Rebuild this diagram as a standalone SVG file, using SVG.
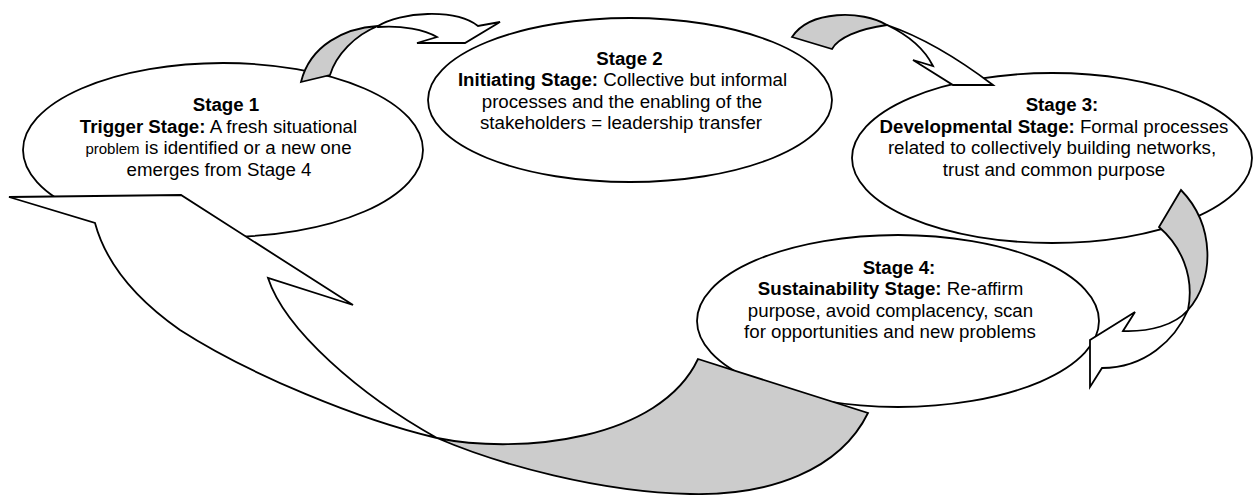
<svg xmlns="http://www.w3.org/2000/svg" width="1254" height="495" viewBox="0 0 1254 495">
<style>
.node{fill:#ffffff;stroke:#000000;stroke-width:1.8}
.aw{fill:#ffffff;stroke:#000000;stroke-width:1.8;stroke-linejoin:miter}
.ag{fill:#cccccc;stroke:#000000;stroke-width:1.8;stroke-linejoin:miter}
.t{font-family:"Liberation Sans",Arial,sans-serif;font-size:18.7px;fill:#000000;text-anchor:middle}
.b{font-weight:bold}
</style>
<rect x="0" y="0" width="1254" height="495" fill="#ffffff"/>
<g id="stage1">
<ellipse class="node" cx="223" cy="150" rx="200" ry="87"/>
<text class="t b" x="226" y="111">Stage 1</text>
<text class="t" x="218.5" y="133"><tspan class="b">Trigger Stage:</tspan> A fresh situational</text>
<text class="t" x="218.5" y="154"><tspan font-size="15px">problem</tspan> is identified or a new one</text>
<text class="t" x="219" y="176">emerges from Stage 4</text>
</g>
<g id="stage2">
<ellipse class="node" cx="630" cy="100" rx="202" ry="82"/>
<text class="t b" x="629.5" y="65">Stage 2</text>
<text class="t" x="622.5" y="86"><tspan class="b">Initiating Stage:</tspan> Collective but informal</text>
<text class="t" x="622" y="107.5">processes and the enabling of the</text>
<text class="t" x="621" y="129">stakeholders = leadership transfer</text>
</g>
<g id="stage3">
<ellipse class="node" cx="1052" cy="158" rx="200" ry="85"/>
<text class="t b" x="1062" y="110.5">Stage 3:</text>
<text class="t" x="1054" y="132.5"><tspan class="b">Developmental Stage:</tspan> Formal processes</text>
<text class="t" x="1052" y="154">related to collectively building networks,</text>
<text class="t" x="1054" y="175.5">trust and common purpose</text>
</g>
<g id="stage4">
<ellipse class="node" cx="898" cy="321" rx="201" ry="86"/>
<text class="t b" x="899" y="273.5">Stage 4:</text>
<text class="t" x="890.5" y="295"><tspan class="b">Sustainability Stage:</tspan> Re-affirm</text>
<text class="t" x="890.5" y="316.5">purpose, avoid complacency, scan</text>
<text class="t" x="890" y="338">for opportunities and new problems</text>
</g>
<g id="connectors">
<g id="arrow-1-2">
<path class="ag" d="M301,82 L330,75 C336,55 355,35 378,26 C345,28 310,45 301,82 Z"/>
<path class="aw" d="M378,26 C400,12 455,8 478,26 L500,22 L465,43 L417,43 L437,37 C425,30 402,25 378,27 Z"/>
</g>
<g id="arrow-2-3">
<path class="ag" d="M792,37 L832,49 C838,38 858,29 887,25 C862,10 810,10 792,37 Z"/>
<path class="aw" d="M887,25 C925,38 960,60 993,85 L953,85 L913,60 L933,66 C925,50 910,36 887,25 Z"/>
</g>
<g id="arrow-3-4">
<path class="ag" d="M1181,190 L1159,227 C1180,245 1195,275 1188,310 C1215,280 1215,225 1181,190 Z"/>
<path class="aw" d="M1188,310 C1175,340 1145,368 1102,368 L1090,387 L1090,340 L1135,312 L1123,331 C1150,332 1175,325 1188,310 Z"/>
</g>
<g id="arrow-4-1">
<path class="aw" d="M9,197 L181,195 L353,305 L268,278 C285,330 360,395 437,438 C360,420 250,375 180,330 C130,295 105,260 95,223 Z"/>
<path class="ag" d="M437,438 C520,455 660,440 698,359 L868,413 C840,470 770,496 690,494 C600,492 500,465 437,438 Z"/>
</g>
</g>
</svg>
